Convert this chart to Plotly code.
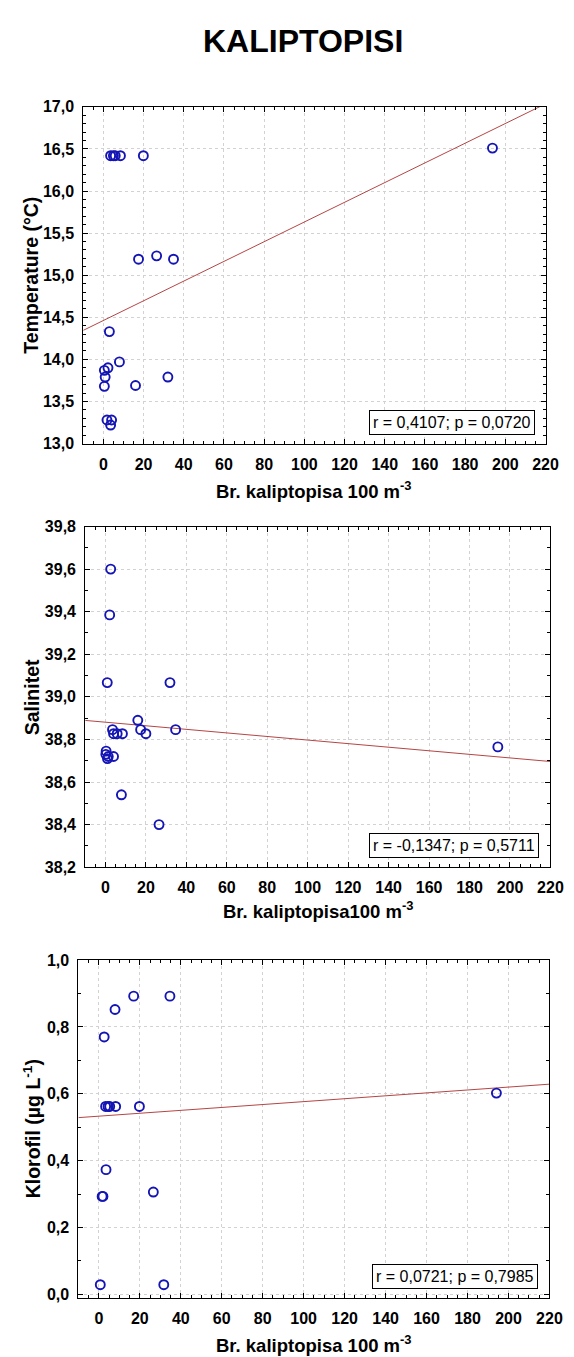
import plotly.graph_objects as go

# ---------------- data ----------------
title_text = "KALIPTOPISI"

# Panel 1: Temperature
temp_x = [3.6, 5.0, 5.9, 8.5, 19.9, 193.6, 17.5, 26.5, 34.9, 3.0, 8.0, 2.3, 0.5, 0.9, 0.5, 16.0, 32.1, 1.8, 4.1, 3.6]
temp_y = [16.42, 16.42, 16.42, 16.42, 16.42, 16.51, 15.19, 15.23, 15.19, 14.33, 13.97, 13.90, 13.87, 13.79, 13.68, 13.69, 13.79, 13.28, 13.28, 13.22]
temp_fit = (14.462, 0.01170)   # intercept, slope
temp_stats = "r = 0,4107; p = 0,0720"

# Panel 2: Salinity
sal_x = [2.6, 2.1, 0.9, 31.9, 16.0, 17.4, 34.7, 20.0, 3.5, 4.0, 5.8, 8.4, 194.0, 0.35, 0.2, 1.4, 4.0, 7.9, 26.5, 1.0]
sal_y = [39.60, 39.385, 39.067, 39.067, 38.89, 38.846, 38.846, 38.827, 38.846, 38.827, 38.827, 38.827, 38.765, 38.745, 38.73, 38.72, 38.72, 38.54, 38.40, 38.71]
sal_fit = (38.881, -0.000839)
sal_stats = "r = -0,1347; p = 0,5711"

# Panel 3: Chlorophyll
chl_x = [17.0, 34.7, 7.9, 2.6, 194.1, 3.3, 5.3, 8.2, 19.8, 3.5, 26.6, 1.6, 0.7, 31.7, 4.5, 2.0]
chl_y = [0.892, 0.892, 0.852, 0.770, 0.602, 0.562, 0.562, 0.562, 0.562, 0.373, 0.306, 0.293, 0.029, 0.029, 0.562, 0.293]
chl_fit = (0.533, 0.000435)
chl_stats = "r = 0,0721; p = 0,7985"

x_ticks = [0, 20, 40, 60, 80, 100, 120, 140, 160, 180, 200, 220]
x_titles = ["Br. kaliptopisa 100 m<sup>-3</sup>",
            "Br. kaliptopisa100 m<sup>-3</sup>",
            "Br. kaliptopisa 100 m<sup>-3</sup>"]
y_titles = ["Temperature (°C)", "Salinitet", "Klorofil (µg L<sup>-1</sup>)"]

# ---------------- layout constants ----------------
W, H = 574, 1357
FONT = "Liberation Sans, Arial, sans-serif"
panels = [  # (left px, right px, top px, bottom px, y range, y dtick, y minor, xtitle gap)
    (77, 550, 92, 433, [13.0, 17.0], 0.5, 0.1, 47),
    (79, 555, 517, 862, [38.2, 39.8], 0.2, 0.1, 43),
    (72, 554, 956, 1298, [-0.01, 1.0], 0.2, 0.1, 47),
]
datasets = [(temp_x, temp_y, temp_fit, temp_stats),
            (sal_x, sal_y, sal_fit, sal_stats),
            (chl_x, chl_y, chl_fit, chl_stats)]

fig = go.Figure()
annotations = []
line_x = [-10, 220]

for i, ((lft, rgt, top, bot, yr, dt, mn, gap), (xs, ys, fit, stats)) in enumerate(zip(panels, datasets)):
    n = "" if i == 0 else str(i + 1)
    xa, ya = "x" + n, "y" + n
    a, b = fit
    fig.add_trace(go.Scatter(x=line_x, y=[a + b * v for v in line_x], mode="lines",
                             line=dict(color="#b54545", width=1), xaxis=xa, yaxis=ya,
                             showlegend=False, hoverinfo="skip"))
    fig.add_trace(go.Scatter(x=xs, y=ys, mode="markers",
                             marker=dict(symbol="circle-open", size=9, color="#1515b5",
                                         line=dict(width=1.9, color="#1515b5")),
                             xaxis=xa, yaxis=ya, showlegend=False))
    common = dict(showline=True, linecolor="black", linewidth=1, mirror="ticks",
                  ticks="inside", ticklen=5, tickcolor="black",
                  showgrid=True, gridcolor="#d2d2d2", griddash="dot", gridwidth=1,
                  zeroline=False,
                  tickfont=dict(family=FONT, size=16, color="black", weight="bold"))
    fig.update_layout(**{
        ("xaxis" + n): dict(domain=[lft / W, rgt / W], range=[-10, 220],
                            anchor=ya, tickmode="array", tickvals=x_ticks,
                            ticklabelstandoff=6,
                            minor=dict(dtick=5, ticks="inside", ticklen=3, tickcolor="black",
                                       showgrid=False),
                            **common),
        ("yaxis" + n): dict(domain=[1 - bot / H, 1 - top / H], range=yr, anchor=xa,
                            dtick=dt, tick0=0, tickformat=".1f",
                            ticklabelstandoff=5,
                            minor=dict(dtick=mn, ticks="inside", ticklen=3, tickcolor="black",
                                       showgrid=False),
                            **common),
    })
    # stats box
    annotations.append(dict(text=stats, xref=xa + " domain", yref=ya + " domain",
                            x=1, y=0, xanchor="right", yanchor="bottom",
                            xshift=-11, yshift=9, showarrow=False,
                            bordercolor="black", borderwidth=1, borderpad=3,
                            bgcolor="white",
                            font=dict(family=FONT, size=16, color="black")))
    # x title
    annotations.append(dict(text="<b>" + x_titles[i] + "</b>", xref="paper", yref="paper",
                            x=(lft + rgt) / 2 / W, y=1 - (bot + gap) / H,
                            xanchor="center", yanchor="middle", showarrow=False,
                            font=dict(family=FONT, size=18.5, color="black")))
    # y title
    annotations.append(dict(text="<b>" + y_titles[i] + "</b>", xref="paper", yref="paper",
                            x=24 / W, y=1 - (top + bot) / 2 / H, textangle=-90,
                            xanchor="center", yanchor="middle", showarrow=False,
                            font=dict(family=FONT, size=19.5, color="black")))

annotations.append(dict(text="<b>" + title_text + "</b>", xref="paper", yref="paper",
                        x=302 / W, y=1 - 25 / H, xanchor="center", yanchor="middle",
                        showarrow=False, font=dict(family=FONT, size=32, color="black")))

fig.update_layout(width=W, height=H, margin=dict(l=0, r=0, t=0, b=0),
                  paper_bgcolor="white", plot_bgcolor="white",
                  separators=",.", annotations=annotations,
                  font=dict(family=FONT, color="black"))

fig.write_html("out.html")
